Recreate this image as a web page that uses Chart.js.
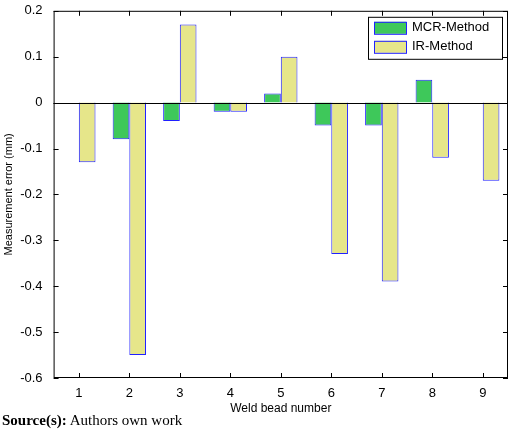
<!DOCTYPE html>
<html lang="en">
<head>
<meta charset="UTF-8" />
<title>Measurement error</title>
<script src="https://cdn.jsdelivr.net/npm/chart.js"></script>
<style>
  body { margin: 0; background: #fff; }
  .wrap { width: 520px; height: 416px; }
  .src { font-family: "Liberation Serif", serif; font-size: 15px; margin: -4px 0 0 2px; }
</style>
</head>
<body>
<div class="wrap"><canvas id="c"></canvas></div>
<div class="src"><b>Source(s):</b> Authors own work</div>
<script>
const categories = ["1", "2", "3", "4", "5", "6", "7", "8", "9"];
const mcrValues = [0, -0.08, -0.04, -0.02, 0.02, -0.05, -0.05, 0.05, 0];
const irValues = [-0.13, -0.55, 0.17, -0.02, 0.10, -0.33, -0.39, -0.12, -0.17];
const seriesNames = ["MCR-Method", "IR-Method"];
const colors = ["#3ec85a", "#e6e68a"];

const frame = {
  id: "frame",
  afterDraw(chart) {
    const { ctx, chartArea: a, scales: { x, y } } = chart;
    ctx.save();
    ctx.strokeStyle = "#000";
    ctx.lineWidth = 1;
    ctx.strokeRect(a.left + 0.5, a.top + 0.5, a.width - 1, a.height - 1);
    const y0 = Math.round(y.getPixelForValue(0)) + 0.5;
    ctx.beginPath(); ctx.moveTo(a.left, y0); ctx.lineTo(a.right, y0);
    // inward ticks
    y.ticks.forEach(t => {
      const p = Math.round(y.getPixelForValue(t.value)) + 0.5;
      ctx.moveTo(a.left, p); ctx.lineTo(a.left + 5, p);
      ctx.moveTo(a.right, p); ctx.lineTo(a.right - 5, p);
    });
    categories.forEach((c, i) => {
      const p = Math.round(x.getPixelForValue(i)) + 0.5;
      ctx.moveTo(p, a.bottom); ctx.lineTo(p, a.bottom - 5);
      ctx.moveTo(p, a.top); ctx.lineTo(p, a.top + 5);
    });
    ctx.stroke();
    // legend
    const w = 134, h = 42, lx = a.right - w - 6, t = a.top + 6;
    ctx.fillStyle = "#fff"; ctx.fillRect(lx, t, w, h);
    ctx.strokeStyle = "#000"; ctx.strokeRect(lx + 0.5, t + 0.5, w, h);
    ctx.font = "13px 'Liberation Sans', Arial, sans-serif";
    ctx.textBaseline = "middle";
    seriesNames.forEach((n, i) => {
      const yy = t + 11 + i * 19;
      ctx.fillStyle = colors[i];
      ctx.fillRect(lx + 6, yy - 6, 32, 12);
      ctx.strokeStyle = "#2020ff";
      ctx.strokeRect(lx + 6.5, yy - 5.5, 32, 12);
      ctx.fillStyle = "#000";
      ctx.fillText(n, lx + 44, yy);
    });
    ctx.restore();
  }
};

new Chart(document.getElementById("c"), {
  type: "bar",
  data: {
    labels: categories,
    datasets: [
      { label: seriesNames[0], data: mcrValues, backgroundColor: colors[0], borderColor: "#2020ff", borderWidth: 1 },
      { label: seriesNames[1], data: irValues, backgroundColor: colors[1], borderColor: "#2020ff", borderWidth: 1 }
    ]
  },
  options: {
    responsive: true,
    maintainAspectRatio: false,
    animation: false,
    layout: { padding: { top: 6, right: 12, left: 0 } },
    datasets: { bar: { categoryPercentage: 0.66, barPercentage: 1 } },
    plugins: { legend: { display: false }, tooltip: { enabled: false } },
    scales: {
      x: {
        grid: { display: false },
        border: { display: false },
        ticks: { color: "#000", padding: 0, font: { size: 13, family: "Liberation Sans" } },
        title: { display: true, text: "Weld bead number", color: "#000", font: { size: 12, family: "Liberation Sans" }, padding: 0 }
      },
      y: {
        min: -0.6, max: 0.2,
        grid: { display: false },
        border: { display: false },
        ticks: { stepSize: 0.1, color: "#000", font: { size: 13, family: "Liberation Sans" },
          callback: v => (Math.abs(v) < 1e-9 ? "0" : parseFloat(v.toFixed(1)).toString()) },
        title: { display: true, text: "Measurement error (mm)", color: "#000", font: { size: 11, family: "Liberation Sans" }, padding: 2 }
      }
    }
  },
  plugins: [frame]
});
</script>
</body>
</html>
